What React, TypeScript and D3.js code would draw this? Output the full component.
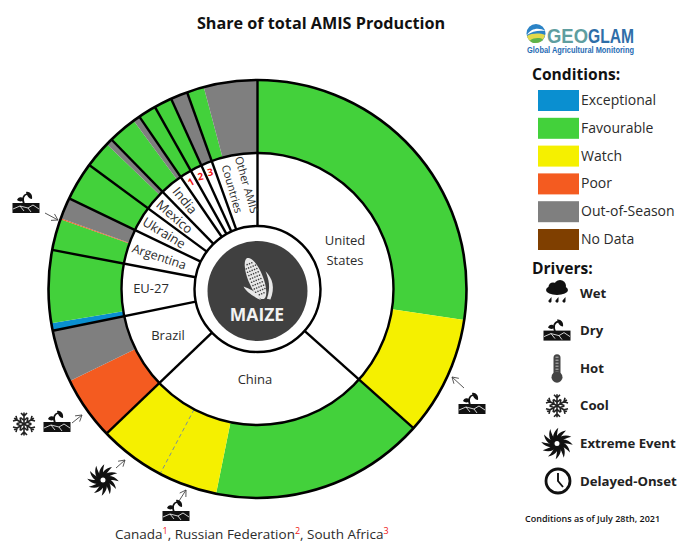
import * as d3 from "d3";

// country shares of production, split per condition (clockwise from 12 o'clock)
const segmentCountry = ["United States", "United States", "China", "China", "Brazil", "Brazil", "EU-27", "EU-27", "Argentina", "Argentina", "Argentina", "Ukraine", "Mexico", "Mexico", "India", "India", "Canada", "Russian Federation", "South Africa", "Other", "Other"];
const segmentCondition = ["Favourable", "Watch", "Favourable", "Watch", "Poor", "Out-of-Season", "Exceptional", "Favourable", "Favourable", "Poor", "Out-of-Season", "Favourable", "Favourable", "Out-of-Season", "Favourable", "Out-of-Season", "Favourable", "Favourable", "Out-of-Season", "Favourable", "Out-of-Season"];
const segmentShare = [27.36, 9.22, 16.58, 9.67, 4.89, 4.06, 0.58, 5.61, 2.42, 0.08, 1.64, 2.97, 2.08, 0.5, 2.22, 0.53, 1.39, 1.39, 1.31, 1.33, 4.14];

const conditions = ["Exceptional", "Favourable", "Watch", "Poor", "Out-of-Season", "No Data"];
const conditionColors = ["#0a8fd0", "#43d13b", "#f5f000", "#f45b20", "#7f7f7f", "#7f3f00"];
const drivers = ["Wet", "Dry", "Hot", "Cool", "Extreme Event", "Delayed-Onset"];
const rotatedLabels = [["Argentina", 103.5, 12.4], ["Ukraine", 109, 13], ["Mexico", 110, 13], ["India", 114.5, 13]] as const;
const numberedLabels = [["Canada", "1", -30], ["Russian Federation", "2", -10], ["South Africa", "3", -10]] as const;

const cx = 257.5;
const cy = 289;
const rOuter = 209;
const rMid = 136;
const rInner = 63;
const font = "'Open Sans', sans-serif";
const textColor = "#2b2b2b";

const color = d3.scaleOrdinal<string, string>().domain(conditions).range(conditionColors);

const angle = d3.scaleLinear().domain([0, d3.sum(segmentShare)]).range([0, 2 * Math.PI]);

let running = 0;
const segments = segmentShare.map((v, i) => {
  const s = { country: segmentCountry[i], condition: segmentCondition[i], startAngle: angle(running), endAngle: angle(running + v) };
  running += v;
  return s;
});

const countryNames = Array.from(new Set(segmentCountry));
const countrySpans = countryNames.map((name) => {
  const parts = segments.filter((s) => s.country === name);
  return { name, startAngle: parts[0].startAngle, endAngle: parts[parts.length - 1].endAngle };
});
const midOf = (name: string) => {
  const c = countrySpans.find((s) => s.name === name)!;
  return (c.startAngle + c.endAngle) / 2;
};

const outerArc = d3.arc<any>().innerRadius(rMid).outerRadius(rOuter);
const polar = (a: number, r: number): [number, number] => [r * Math.sin(a), -r * Math.cos(a)];

function DryIcon({ x, y }: { x: number; y: number }) {
  return (
    <g transform={`translate(${x},${y})`}>
      <rect x={-13.5} y={0} width={27} height={10} fill="#111" />
      <path d="M-13,6 L-6,3 L-2,8 M-6,3 L2,5 L7,2 M2,5 L5,9 M7,2 L13,6" fill="none" stroke="#fff" strokeWidth={0.8} />
      <path d="M-2,1 C-4,-4 -3,-8 1,-9" fill="none" stroke="#111" strokeWidth={1.8} />
      <path d="M0,-11 C3,-12 7,-9 6,-4 C3,-4 1,-7 0,-11 Z M-2,-4 C-5,-7 -8,-6 -9,-3 C-7,-1 -3,-1 -2,-4 Z" fill="#111" />
    </g>
  );
}

function WetIcon({ x, y }: { x: number; y: number }) {
  return (
    <g transform={`translate(${x},${y})`} fill="#111">
      <ellipse cx={0} cy={-3} rx={11} ry={5} />
      <circle cx={-4} cy={-6} r={4.5} />
      <circle cx={3} cy={-7} r={6} />
      {[-7, 0, 7].map((d) => (
        <path key={d} d={`M${d + 1.5},4 L${d - 1.5},7.5 a1.5,1.5 0 0 0 3,1 Z`} />
      ))}
    </g>
  );
}

function HotIcon({ x, y }: { x: number; y: number }) {
  return (
    <g transform={`translate(${x},${y})`}>
      <rect x={-3.5} y={-14} width={7} height={22} rx={3.5} fill="#444" />
      {d3.range(-11, 5, 3).map((t) => (
        <line key={t} x1={-1.5} x2={1.5} y1={t} y2={t} stroke="#ddd" strokeWidth={0.8} />
      ))}
      <circle cx={0} cy={9} r={5.5} fill="#444" />
    </g>
  );
}

function CoolIcon({ x, y }: { x: number; y: number }) {
  return (
    <g transform={`translate(${x},${y})`} stroke="#222" fill="none" strokeWidth={1.6}>
      {d3.range(6).map((i) => (
        <path key={i} transform={`rotate(${i * 60})`} d="M0,0 L0,-11.5 M-3,-11 L0,-8 L3,-11 M-3.5,-6.5 L0,-3.5 L3.5,-6.5" />
      ))}
    </g>
  );
}

function ExtremeIcon({ x, y }: { x: number; y: number }) {
  return (
    <g transform={`translate(${x},${y})`} fill="#111">
      {d3.range(12).map((i) => (
        <path key={i} transform={`rotate(${i * 30})`} d="M-1.5,-3 C-1.5,-8 3,-12 9,-13 C5.5,-9.5 3,-6 2,-2.5 Z" />
      ))}
      <circle r={3.2} fill="#fff" stroke="#111" strokeWidth={1.4} />
    </g>
  );
}

function ClockIcon({ x, y }: { x: number; y: number }) {
  return (
    <g transform={`translate(${x + 1},${y})`} fill="none" stroke="#111">
      <circle r={12} strokeWidth={2.8} />
      <path d="M0,-8 L0,0 L5,6" strokeWidth={1.9} />
    </g>
  );
}

const driverIcons = [WetIcon, DryIcon, HotIcon, CoolIcon, ExtremeIcon, ClockIcon];

function Arrow({ x1, y1, x2, y2 }: { x1: number; y1: number; x2: number; y2: number }) {
  const a = Math.atan2(y2 - y1, x2 - x1);
  const head = (d: number) => `${x2 - 7 * Math.cos(a + d)},${y2 - 7 * Math.sin(a + d)}`;
  return (
    <path
      d={`M${x1},${y1} L${x2},${y2} M${head(0.55)} L${x2},${y2} L${head(-0.55)}`}
      fill="none"
      stroke="#444"
      strokeWidth={0.9}
    />
  );
}

function CornIcon({ x, y }: { x: number; y: number }) {
  const rows = d3.range(-16, 17, 3.6);
  return (
    <g transform={`translate(${x},${y}) rotate(-22)`}>
      <path d="M-3,22 C-9,16 -14,8 -14,3 C-9,8 -6,11 -5,14 Z" fill="#e8e8e8" />
      <path d="M3,23 C11,14 12,6 12,-3 C16,6 15,16 6,25 Z" fill="#e8e8e8" />
      <ellipse rx={7.5} ry={22} fill="#e8e8e8" />
      {rows.map((r) =>
        d3.range(-5, 6, 2.5).map((c) =>
          Math.abs(c) / 7.5 < Math.sqrt(1 - (r * r) / 400) ? (
            <circle key={`${r}-${c}`} cx={c} cy={r} r={0.8} fill="#404040" />
          ) : null
        )
      )}
    </g>
  );
}

function Logo() {
  return (
    <g fontFamily="'Liberation Sans', sans-serif" fontWeight={700}>
      <circle cx={536} cy={33.5} r={9.5} fill="#2b83c6" />
      <path d="M527,35 C531,28 539,27 545.5,31 C539,30 532,31 527,35 Z" fill="#fff" />
      <path d="M527,36 C532,33 540,33 545,35 C544,40 540,43 536,43 C531,43 528,40 527,36 Z" fill="#e3d94a" />
      <path d="M530,40.5 C534,37.5 540,37.5 543,39.5 C540,43.5 532,44.5 530,40.5 Z" fill="#5fb34a" />
      <text x={547} y={43} fontSize={20} textLength={41} lengthAdjust="spacingAndGlyphs" fill="#5f9ea0">GEO</text>
      <text x={588} y={43} fontSize={20} textLength={46} lengthAdjust="spacingAndGlyphs" fill="#2f6ea8">GLAM</text>
      <text x={527} y={53} fontSize={8.5} textLength={107} lengthAdjust="spacingAndGlyphs" fill="#1f6cb4">
        Global Agricultural Monitoring
      </text>
    </g>
  );
}

export default function App() {
  const legendY = d3.scalePoint<string>().domain(conditions).range([100.5, 239.5]);
  const driverY = d3.scalePoint<string>().domain(drivers).range([293, 481]);
  const dashAngle = angle(57.7);
  const [dx1, dy1] = polar(dashAngle, rMid);
  const [dx2, dy2] = polar(dashAngle, rOuter);

  return (
    <svg width={679} height={542} style={{ position: "absolute", left: 0, top: 0, display: "block" }} fontFamily={font}>
      <rect width={679} height={542} fill="#fff" />
      <text x={321} y={28.5} textAnchor="middle" fontWeight={700} fontSize={16.2} fill="#111">
        Share of total AMIS Production
      </text>

      <g transform={`translate(${cx},${cy})`}>
        {segments.map((s, i) => (
          <path key={i} d={outerArc(s)!} fill={color(s.condition)} />
        ))}
        <line x1={dx1} y1={dy1} x2={dx2} y2={dy2} stroke="#7a8f9a" strokeWidth={1} strokeDasharray="4 3" />
        <circle r={rMid} fill="#fff" />
        {countrySpans.map((c) => {
          const [x1, y1] = polar(c.startAngle, rInner);
          const [x2, y2] = polar(c.startAngle, rOuter);
          return <line key={c.name} x1={x1} y1={y1} x2={x2} y2={y2} stroke="#000" strokeWidth={2.4} />;
        })}
        <circle r={rMid} fill="none" stroke="#000" strokeWidth={2.4} />
        <circle r={rOuter} fill="none" stroke="#000" strokeWidth={2.6} />
        <circle r={rInner} fill="#fff" stroke="#000" strokeWidth={2.4} />
        <circle r={50} cy={2} fill="#404040" />
      </g>

      <CornIcon x={255.5} y={278.5} />
      <text x={257} y={321} textAnchor="middle" fill="#f2f2f2" fontWeight={700} fontSize={17.5}>
        MAIZE
      </text>

      <g fill={textColor} fontSize={13} textAnchor="middle">
        <text x={345} y={245}>United</text>
        <text x={345} y={265}>States</text>
        <text x={255} y={384}>China</text>
        <text x={168} y={340}>Brazil</text>
        <text x={151} y={293}>EU-27</text>
        {rotatedLabels.map(([name, r, size]) => {
          const a = midOf(name);
          const [x, y] = polar(a, r);
          return (
            <text key={name} textAnchor="middle" dy="0.35em" fontSize={size} transform={`translate(${cx + x},${cy + y}) rotate(${(a * 180) / Math.PI - 270})`}>
              {name}
            </text>
          );
        })}
        {numberedLabels.map(([name, n, tilt]) => {
          const [x, y] = polar(midOf(name), 126);
          return (
            <text key={name} textAnchor="middle" dy="0.35em" fontSize={10} fontWeight={700} fill="#f01414" transform={`translate(${cx + x},${cy + y}) rotate(${tilt})`}>
              {n}
            </text>
          );
        })}
        <g transform={`translate(239,187) rotate(74)`} fontSize={11}>
          <text y={-4}>Other AMIS</text>
          <text y={11}>Countries</text>
        </g>
      </g>

      {/* driver annotations round the ring */}
      <Arrow x1={464} y1={388} x2={452} y2={377} />
      <DryIcon x={472} y={404} />
      <Arrow x1={45} y1={213} x2={58} y2={220} />
      <DryIcon x={26} y={203} />
      <CoolIcon x={24} y={424} />
      <DryIcon x={57} y={422} />
      <Arrow x1={72} y1={423} x2={82} y2={415} />
      <ExtremeIcon x={103} y={480} />
      <Arrow x1={116} y1={468} x2={125} y2={460} />
      <DryIcon x={176} y={511} />
      <Arrow x1={179} y1={501} x2={186} y2={490} />

      <text x={115} y={539} fontSize={13.5} fill={textColor}>
        Canada<tspan fill="#f01414" fontSize={9} dy={-5}>1</tspan>
        <tspan dy={5}>, Russian Federation</tspan>
        <tspan fill="#f01414" fontSize={9} dy={-5}>2</tspan>
        <tspan dy={5}>, South Africa</tspan>
        <tspan fill="#f01414" fontSize={9} dy={-5}>3</tspan>
      </text>

      <Logo />

      <text x={532} y={80} fontWeight={700} fontSize={15.6} fill="#111">Conditions:</text>
      {conditions.map((c) => (
        <g key={c}>
          <rect x={538} y={legendY(c)! - 10.5} width={41} height={21} fill={color(c)} />
          <text x={581} y={legendY(c)! + 4.5} fontSize={14} fill={textColor}>{c}</text>
        </g>
      ))}

      <text x={532} y={274} fontWeight={700} fontSize={15.6} fill="#111">Drivers:</text>
      {drivers.map((d, i) => {
        const Icon = driverIcons[i];
        return (
          <g key={d}>
            <Icon x={557} y={driverY(d)!} />
            <text x={580} y={driverY(d)! + 4.5} fontWeight={700} fontSize={13.2} fill="#222">{d}</text>
          </g>
        );
      })}

      <text x={525} y={522} fontSize={9} fontWeight={600} fill="#111">Conditions as of July 28th, 2021</text>
    </svg>
  );
}
